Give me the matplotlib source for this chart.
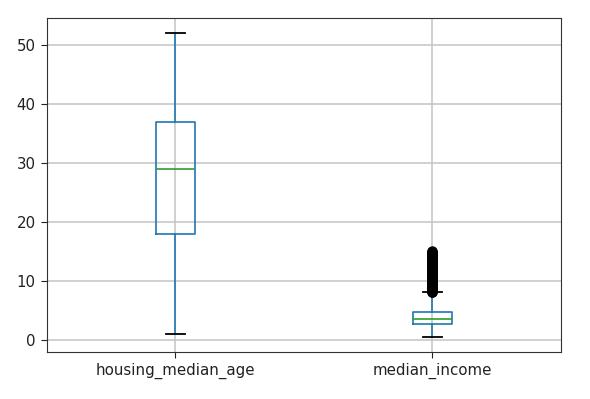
import matplotlib
matplotlib.use("Agg")
import matplotlib.pyplot as plt

labels = ["housing_median_age", "median_income"]
q1s = [18.0, 2.5634]
medians = [29.0, 3.5348]
q3s = [37.0, 4.7432]
whislo = [1.0, 0.4999]
whishi = [52.0, 8.0113]
fliers_age = []
fliers_income = [8.02, 8.1, 8.2, 8.3, 8.4, 8.5, 8.6, 8.7, 8.8, 8.9, 9.0,
                 9.1, 9.2, 9.3, 9.4, 9.5, 9.6, 9.7, 9.8, 9.9, 10.0,
                 10.1, 10.2, 10.3, 10.4, 10.5, 10.6, 10.7, 10.8, 10.9, 11.0,
                 11.1, 11.2, 11.3, 11.4, 11.5, 11.6, 11.7, 11.8, 11.9, 12.0,
                 12.1, 12.2, 12.3, 12.4, 12.5, 12.6, 12.7, 12.8, 12.9, 13.0,
                 13.1, 13.2, 13.3, 13.4, 13.5, 13.6, 13.7, 13.8, 13.9, 14.0,
                 14.1, 14.2, 14.3, 14.4, 14.5, 14.6, 14.7, 14.8, 14.9, 15.0001]
fliers = [fliers_age, fliers_income]
yticks = [0, 10, 20, 30, 40, 50]

stats = []
for i in range(len(labels)):
    stats.append(dict(label=labels[i], q1=q1s[i], med=medians[i], q3=q3s[i],
                      whislo=whislo[i], whishi=whishi[i], fliers=fliers[i]))

plt.rcParams["font.size"] = 10.8
plt.rcParams["text.color"] = "#222222"
plt.rcParams["xtick.color"] = "#222222"
plt.rcParams["ytick.color"] = "#222222"
plt.rcParams["xtick.major.size"] = 4.5
plt.rcParams["ytick.major.size"] = 4.5

fig = plt.figure(figsize=(5.9, 3.99), dpi=100)
ax = fig.add_axes([0.0791, 0.1185, 0.8717, 0.8356])
ax.bxp(stats, widths=0.15,
       boxprops=dict(color="C0", linewidth=1.2),
       whiskerprops=dict(color="C0", linewidth=1.2),
       medianprops=dict(color="C2", linewidth=1.2),
       capprops=dict(color="k", linewidth=1.3),
       flierprops=dict(marker="o", markerfacecolor="none", markeredgecolor="k",
                       markersize=6.5))
ax.grid(True, color="#c4c4c4", linewidth=1.1)
ax.set_yticks(yticks)
for s in ax.spines.values():
    s.set_color("#333333")
fig.savefig("out.png", dpi=100)
